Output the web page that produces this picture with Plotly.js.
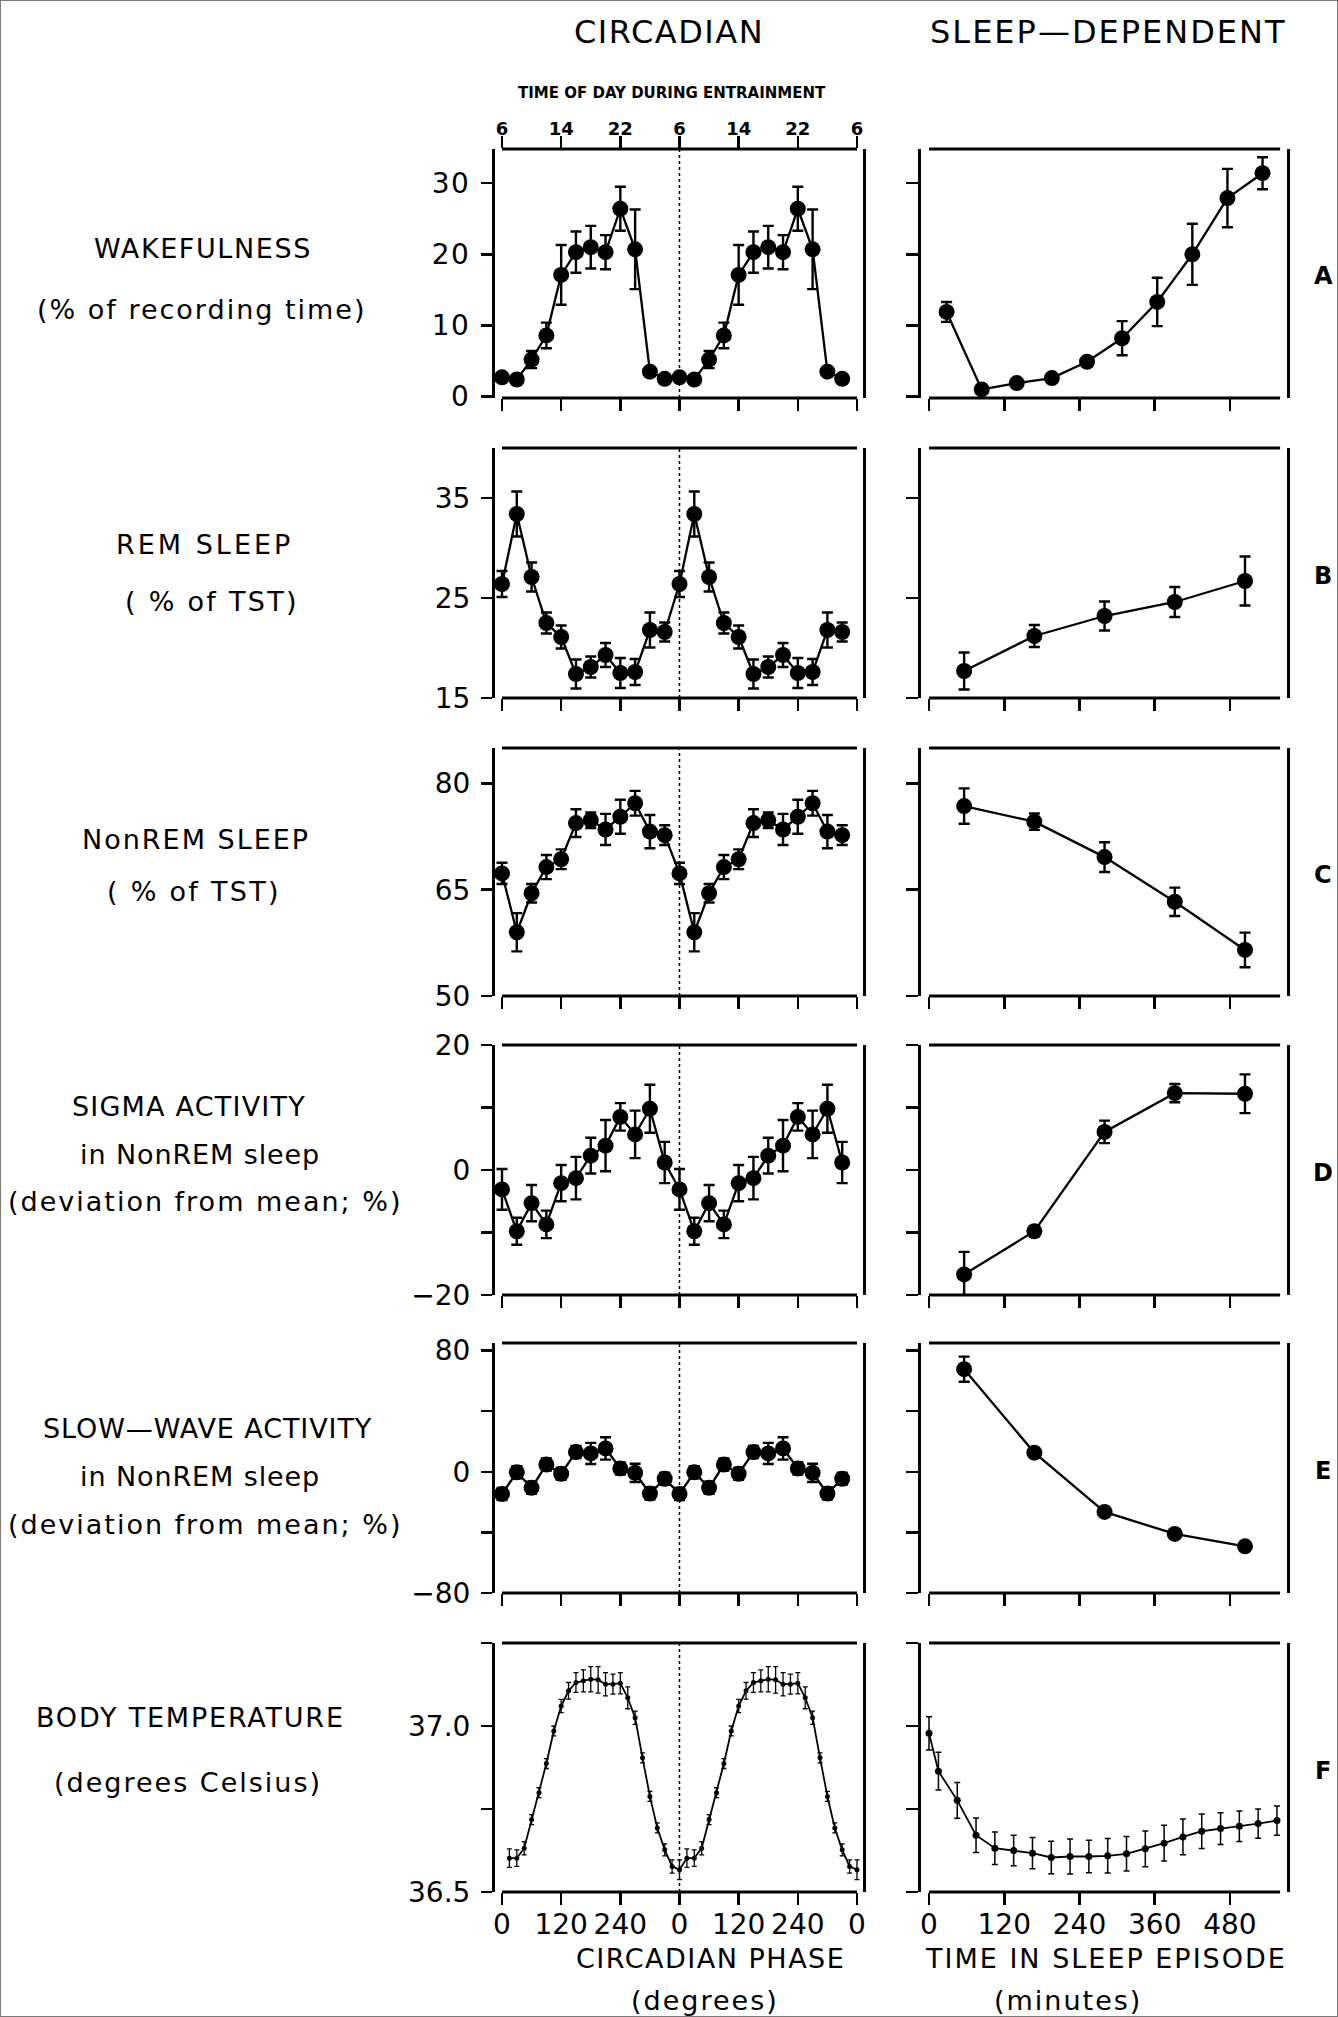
<!DOCTYPE html>
<html>
<head>
<meta charset="utf-8">
<script src="https://cdn.plot.ly/plotly-3.0.1.min.js"></script>
<style>
  html, body { margin: 0; padding: 0; background: #ffffff; }
  #chart { width: 1338px; height: 2017px; }
  .ytick text { letter-spacing: 1.5px; }
</style>
</head>
<body>
<div id="chart"></div>
<script>
// ---------------- DATA ----------------
// Circadian bins (degrees), double plotted
const circPhase = [0, 30, 60, 90, 120, 150, 180, 210, 240, 270, 300, 330];
const tempPhase = [15, 30, 45, 60, 75, 90, 105, 120, 135, 150, 165, 180, 195, 210, 225, 240, 255, 270, 285, 300, 315, 330, 345, 360];
// Sleep-dependent bins (minutes)
const sleepTime10 = [28, 84, 140, 196, 252, 308, 364, 420, 476, 532];
const sleepTime5 = [56, 168, 280, 392, 504];
const tempSleepTime = [0, 15, 45, 75, 105, 135, 165, 195, 225, 255, 285, 315, 345, 375, 405, 435, 465, 495, 525, 555];

// A: Wakefulness (% of recording time)
const wakeCirc = [2.7, 2.4, 5.2, 8.6, 17.1, 20.3, 21.0, 20.3, 26.4, 20.7, 3.5, 2.5];
const wakeCircErr = [0.5, 0.4, 1.2, 1.8, 4.2, 2.9, 3.0, 2.4, 3.1, 5.6, 0.5, 0.4];
const wakeSleep = [11.9, 1.0, 1.9, 2.6, 4.9, 8.2, 13.3, 20.0, 27.9, 31.4];
const wakeSleepErr = [1.4, 0.4, 0.4, 0.4, 0.5, 2.4, 3.4, 4.3, 4.1, 2.25];

// B: REM sleep (% of TST)
const remCirc = [26.4, 33.4, 27.1, 22.5, 21.1, 17.4, 18.1, 19.3, 17.5, 17.6, 21.8, 21.6];
const remCircErr = [1.3, 2.25, 1.45, 1.05, 1.15, 1.45, 1.05, 1.2, 1.5, 1.3, 1.75, 0.95];
const remSleep = [17.7, 21.2, 23.2, 24.6, 26.7];
const remSleepErr = [1.85, 1.1, 1.45, 1.5, 2.45];

// C: NonREM sleep (% of TST)
const nremCirc = [67.3, 59.0, 64.5, 68.2, 69.3, 74.4, 74.8, 73.5, 75.3, 77.2, 73.2, 72.7];
const nremCircErr = [1.5, 2.7, 1.3, 1.7, 1.4, 1.95, 1.1, 2.2, 2.4, 1.75, 2.35, 1.4];
const nremSleep = [76.8, 74.6, 69.6, 63.3, 56.5];
const nremSleepErr = [2.5, 1.15, 2.1, 2.0, 2.45];

// D: Sigma activity in NonREM sleep (deviation from mean; %)
const sigmaCirc = [-3.1, -9.8, -5.3, -8.7, -2.1, -1.3, 2.3, 3.9, 8.5, 5.7, 9.8, 1.2];
const sigmaCircErr = [3.25, 2.15, 2.9, 2.2, 2.9, 3.4, 2.85, 4.1, 2.2, 3.8, 3.85, 3.3];
const sigmaSleep = [-16.7, -9.8, 6.1, 12.3, 12.2];
const sigmaSleepErr = [3.6, 0.8, 1.8, 1.45, 3.1];

// E: Slow-wave activity in NonREM sleep (deviation from mean; %)
const swaCirc = [-14.6, -0.3, -10.6, 4.8, -1.3, 13.0, 12.1, 15.4, 2.2, -0.7, -14.4, -4.6];
const swaCircErr = [4, 4, 4, 4, 4, 4, 7, 7.4, 4, 6, 4, 4];
const swaSleep = [67.7, 12.6, -26.5, -41.0, -49.2];
const swaSleepErr = [8.3, 2, 2, 2, 2];

// F: Body temperature (degrees Celsius)
const tempCirc = [36.602, 36.602, 36.632, 36.718, 36.799, 36.887, 36.985, 37.060, 37.106, 37.131, 37.136, 37.141,
                  37.139, 37.126, 37.126, 37.129, 37.085, 37.025, 36.904, 36.788, 36.693, 36.627, 36.577, 36.567];
const tempCircErr = [0.028, 0.025, 0.02, 0.015, 0.015, 0.015, 0.015, 0.02, 0.025, 0.03, 0.033, 0.038,
                     0.04, 0.035, 0.03, 0.032, 0.033, 0.02, 0.015, 0.015, 0.015, 0.018, 0.02, 0.03];
const tempSleep = [36.978, 36.864, 36.776, 36.671, 36.632, 36.625, 36.617, 36.604, 36.607, 36.607,
                   36.609, 36.615, 36.630, 36.647, 36.666, 36.683, 36.691, 36.698, 36.706, 36.715];
const tempSleepErr = [0.05, 0.057, 0.054, 0.052, 0.049, 0.046, 0.047, 0.049, 0.053, 0.049,
                      0.052, 0.052, 0.054, 0.054, 0.054, 0.052, 0.048, 0.046, 0.044, 0.044];

// Tick values / labels
const phaseTicks = [0, 120, 240, 360, 480, 600, 720];
const phaseTickText = ['0', '120', '240', '0', '120', '240', '0'];
const timeOfDayText = ['6', '14', '22', '6', '14', '22', '6'];
const minuteTicks = [0, 120, 240, 360, 480];
const minuteTickText = ['0', '120', '240', '360', '480'];
const ticksA = [0, 10, 20, 30];            const ticksAText = ['0', '10', '20', '30'];
const ticksB = [15, 25, 35];               const ticksBText = ['15', '25', '35'];
const ticksC = [50, 65, 80];               const ticksCText = ['50', '65', '80'];
const ticksD = [-20, -10, 0, 10, 20];      const ticksDText = ['\u221220', '', '0', '', '20'];
const ticksE = [-80, -40, 0, 40, 80];      const ticksEText = ['\u221280', '', '0', '', '80'];
const ticksF = [36.5, 36.75, 37.0, 37.25]; const ticksFText = ['36.5', '', '37.0', ''];

// ---------------- LAYOUT HELPERS ----------------
const W = 1338, H = 2017;
const FONT = 'DejaVu Sans, Liberation Sans, sans-serif';
const px = v => v / W;
const py = v => 1 - v / H;
const dom = (top, bot) => [1 - bot / H, 1 - top / H];

const xLeftDom = [495 / W, 863 / W];
const xRightDom = [921 / W, 1287 / W];
const xLeftRange = [-14.2, 732.2];
const xRightRange = [-12.8, 571];

const panels = [
  { top: 149, bot: 398, range: [-0.2, 34.8], tv: ticksA, tt: ticksAText, letter: 'A',
    circ: { x: circPhase, y: wakeCirc, e: wakeCircErr }, sleep: { x: sleepTime10, y: wakeSleep, e: wakeSleepErr } },
  { top: 448, bot: 698, range: [15, 40], tv: ticksB, tt: ticksBText, letter: 'B',
    circ: { x: circPhase, y: remCirc, e: remCircErr }, sleep: { x: sleepTime5, y: remSleep, e: remSleepErr } },
  { top: 748, bot: 996, range: [50, 85], tv: ticksC, tt: ticksCText, letter: 'C',
    circ: { x: circPhase, y: nremCirc, e: nremCircErr }, sleep: { x: sleepTime5, y: nremSleep, e: nremSleepErr } },
  { top: 1045, bot: 1295, range: [-20, 20], tv: ticksD, tt: ticksDText, letter: 'D',
    circ: { x: circPhase, y: sigmaCirc, e: sigmaCircErr }, sleep: { x: sleepTime5, y: sigmaSleep, e: sigmaSleepErr } },
  { top: 1343, bot: 1593, range: [-80, 85], tv: ticksE, tt: ticksEText, letter: 'E',
    circ: { x: circPhase, y: swaCirc, e: swaCircErr }, sleep: { x: sleepTime5, y: swaSleep, e: swaSleepErr } },
  { top: 1643, bot: 1892, range: [36.5, 37.25], tv: ticksF, tt: ticksFText, letter: 'F', small: true,
    circ: { x: tempPhase, y: tempCirc, e: tempCircErr }, sleep: { x: tempSleepTime, y: tempSleep, e: tempSleepErr } }
];

const layout = {
  width: W, height: H,
  margin: { l: 0, r: 0, t: 0, b: 0, pad: 0 },
  paper_bgcolor: '#ffffff', plot_bgcolor: '#ffffff',
  showlegend: false,
  font: { family: FONT, color: '#000000' },
  shapes: [], annotations: []
};
const traces = [];

function traceStyle(small) {
  return {
    mode: 'lines+markers',
    marker: { color: '#000000', size: small ? 5 : 16 },
    line: { color: '#000000', width: small ? 1.8 : 2.3 },
    hoverinfo: 'skip', showlegend: false
  };
}

panels.forEach((p, i) => {
  const nL = i + 1, nR = i + 7;
  const xL = 'xaxis' + (nL === 1 ? '' : nL), yL = 'yaxis' + (nL === 1 ? '' : nL);
  const xR = 'xaxis' + nR, yR = 'yaxis' + nR;
  const last = (i === panels.length - 1);
  const yd = dom(p.top, p.bot);

  const yBase = {
    domain: yd, range: p.range, tickvals: p.tv, ticktext: p.tt,
    ticks: 'outside', ticklen: 11, tickwidth: 2.5, tickcolor: '#000',
    showline: true, linewidth: 3, linecolor: '#000', mirror: true,
    showgrid: false, zeroline: false, fixedrange: true
  };
  const xBase = {
    ticks: 'outside', ticklen: 12, tickwidth: 2.5, tickcolor: '#000',
    showline: false, showgrid: false, zeroline: false, fixedrange: true,
    tickfont: { family: FONT, size: 28, color: '#000' }, ticklabelstandoff: -5
  };

  layout[xL] = Object.assign({}, xBase, {
    domain: xLeftDom, range: xLeftRange, anchor: 'y' + (nL === 1 ? '' : nL),
    tickvals: phaseTicks, ticktext: phaseTickText, showticklabels: last
  });
  layout[yL] = Object.assign({}, yBase, {
    anchor: 'x' + (nL === 1 ? '' : nL), showticklabels: true,
    tickfont: { family: FONT, size: 28, color: '#000' }, ticklabelstandoff: 5
  });
  layout[xR] = Object.assign({}, xBase, {
    domain: xRightDom, range: xRightRange, anchor: 'y' + nR,
    tickvals: minuteTicks, ticktext: minuteTickText, showticklabels: last
  });
  layout[yR] = Object.assign({}, yBase, {
    anchor: 'x' + nR, showticklabels: false, ticklen: 12
  });

  const xrefL = 'x' + (nL === 1 ? '' : nL), yrefL = 'y' + (nL === 1 ? '' : nL);
  const xrefR = 'x' + nR, yrefR = 'y' + nR;

  // frame lines (top & bottom) with corner gaps, like the original plot style
  [0, 1].forEach(yy => {
    layout.shapes.push({ type: 'line', xref: xrefL, yref: yrefL + ' domain', x0: 0, x1: 720, y0: yy, y1: yy,
      line: { color: '#000', width: 3 } });
    layout.shapes.push({ type: 'line', xref: xrefR, yref: yrefR + ' domain', x0: 0, x1: 560, y0: yy, y1: yy,
      line: { color: '#000', width: 3 } });
  });
  // dotted separator between the two plotted cycles
  layout.shapes.push({ type: 'line', xref: xrefL, yref: yrefL + ' domain', x0: 360, x1: 360, y0: 0, y1: 1,
    line: { color: '#000', width: 1.5, dash: 'dot' }, layer: 'below' });

  // Circadian (double plotted)
  const cx = p.circ.x.concat(p.circ.x.map(v => v + 360));
  const cy = p.circ.y.concat(p.circ.y);
  const ce = p.circ.e.concat(p.circ.e);
  traces.push(Object.assign(traceStyle(p.small), {
    x: cx, y: cy, xaxis: xrefL, yaxis: yrefL,
    error_y: { type: 'data', array: ce, visible: true, color: '#000', thickness: p.small ? 1.3 : 2.4, width: p.small ? 2.5 : 5.5 }
  }));
  // Sleep-dependent
  traces.push(Object.assign(traceStyle(p.small), {
    x: p.sleep.x, y: p.sleep.y, xaxis: xrefR, yaxis: yrefR,
    marker: { color: '#000', size: p.small ? 7 : 16 },
    error_y: { type: 'data', array: p.sleep.e, visible: true, color: '#000', thickness: p.small ? 1.5 : 2.4, width: p.small ? 3 : 5.5 }
  }));

  // panel letter
  layout.annotations.push({ text: p.letter, xref: 'paper', yref: 'paper', x: px(1323), y: py((p.top + p.bot) / 2 + 3),
    showarrow: false, xanchor: 'center', yanchor: 'middle',
    font: { family: FONT, size: 24, color: '#000', weight: 'bold' } });
});

// Top "time of day" axis on panel A (circadian)
layout.xaxis13 = {
  overlaying: 'x', anchor: 'y', side: 'top', domain: xLeftDom, range: xLeftRange,
  tickvals: phaseTicks, ticktext: timeOfDayText,
  ticks: 'outside', ticklen: 12, tickwidth: 2.5, tickcolor: '#000',
  showline: false, showgrid: false, zeroline: false, fixedrange: true,
  tickfont: { family: FONT, size: 18, color: '#000', weight: 'bold' }, ticklabelstandoff: -6
};
traces.push({ x: [], y: [], xaxis: 'x13', yaxis: 'y', mode: 'markers', hoverinfo: 'skip', showlegend: false });

// Texts
function ann(text, x, y, size, ls, extra) {
  const t = ls ? '<span style="letter-spacing:' + ls + 'px">' + text + '</span>' : text;
  layout.annotations.push(Object.assign({
    text: t, xref: 'paper', yref: 'paper', x: px(x), y: py(y),
    showarrow: false, xanchor: 'center', yanchor: 'middle',
    font: { family: FONT, size: size, color: '#000' }
  }, extra || {}));
}
ann('CIRCADIAN', 669, 32, 32, 1.5);
ann('SLEEP\u2014DEPENDENT', 1108, 32, 32, 2);
ann('TIME OF DAY DURING ENTRAINMENT', 672, 93, 15, 0, { font: { family: FONT, size: 15, color: '#000', weight: 'bold' } });

ann('WAKEFULNESS', 203, 248, 27, 1.6);
ann('(% of recording time)', 202, 309, 27, 2);
ann('REM SLEEP', 204, 544, 27, 3);
ann('( % of TST)', 212, 601, 27, 2.3);
ann('NonREM SLEEP', 196, 839, 27, 2);
ann('( % of TST)', 194, 892, 27, 2.3);
ann('SIGMA ACTIVITY', 189, 1106, 27, 1.2);
ann('in NonREM sleep', 200, 1154, 27, 0.9);
ann('(deviation from mean; %)', 205, 1201, 27, 2);
ann('SLOW\u2014WAVE ACTIVITY', 207, 1428, 27, 0.9);
ann('in NonREM sleep', 200, 1476, 27, 0.9);
ann('(deviation from mean; %)', 205, 1524, 27, 2);
ann('BODY TEMPERATURE', 190, 1717, 27, 1.8);
ann('(degrees Celsius)', 188, 1782, 27, 2);

ann('CIRCADIAN PHASE', 710, 1958, 27, 1.5);
ann('(degrees)', 705, 2000, 27, 2);
ann('TIME IN SLEEP EPISODE', 1106, 1958, 27, 2);
ann('(minutes)', 1068, 2000, 27, 2);

// thin outer border of the figure
layout.shapes.push({ type: 'rect', xref: 'paper', yref: 'paper', x0: 0, x1: 1, y0: 0, y1: 1,
  line: { color: '#7a7a7a', width: 2 } });

Plotly.newPlot('chart', traces, layout, { staticPlot: true, displayModeBar: false });
</script>
</body>
</html>
